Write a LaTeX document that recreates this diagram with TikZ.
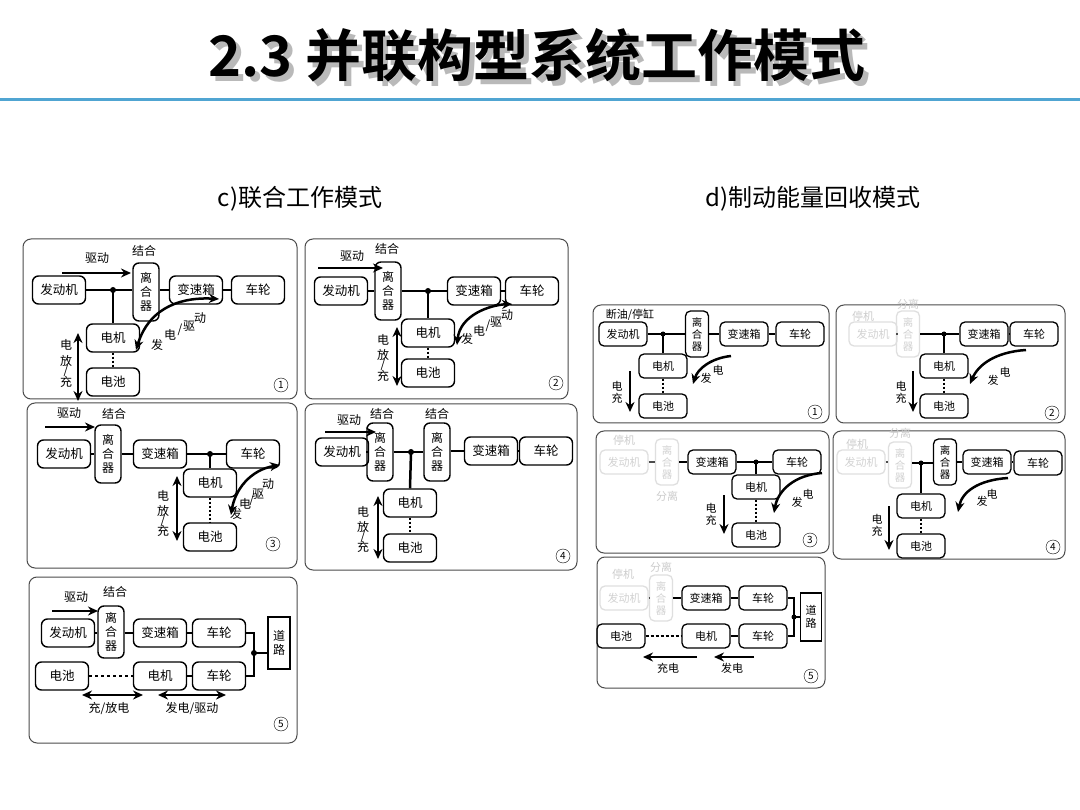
\documentclass[tikz,border=0pt]{standalone}
\usepackage{fontspec}
\setmainfont{Noto Sans CJK SC}
\newfontfamily\tfont{Noto Sans CJK SC Bold}
\usetikzlibrary{arrows.meta}
\begin{document}
\begin{tikzpicture}[x=1pt,y=-1pt,
 bl/.style={draw,rounded corners=6,line width=1.4,minimum width=53,minimum height=28,inner sep=1,font=\fontsize{12.5}{13}\selectfont},
 cl/.style={bl,minimum width=26,minimum height=58,align=center,font=\fontsize{12}{14}\selectfont},
 br/.style={draw,rounded corners=5,line width=1.3,minimum width=48,minimum height=24,inner sep=1,font=\fontsize{11}{12}\selectfont},
 cr/.style={br,minimum width=23,minimum height=46,align=center,font=\fontsize{10.5}{12}\selectfont},
 gry/.style={draw=gray!25,text=gray!35},
 frame/.style={draw=black!70,rounded corners=8,line width=1},
 lab/.style={inner sep=0,font=\fontsize{12}{13}\selectfont},
 labr/.style={inner sep=0,font=\fontsize{11}{12}\selectfont},
 num/.style={draw,circle,inner sep=0.5,minimum size=14,font=\fontsize{10}{10}\selectfont},
 thk/.style={line width=2.5},
 thn/.style={line width=1.3},
 dot/.style={dotted,line width=2},
 arr/.style={line width=2.5,-{Stealth[length=10,width=9]}},
 darr/.style={line width=2.5,{Stealth[length=10,width=9]}-{Stealth[length=10,width=9]}},
]
\useasboundingbox (0,0) rectangle (1080,810);
\fill[white] (0,0) rectangle (1080,810);
% title
\node[text=gray!55,font=\tfont\fontsize{56}{60}\selectfont] at (542,60) {2.3 并联构型系统工作模式};
\node[font=\tfont\fontsize{56}{60}\selectfont] (title) at (537,55) {2.3 并联构型系统工作模式};
\draw[line width=3,color={rgb,255:red,80;green,165;blue,210}] (0,100) -- (1080,100);
\node[font=\fontsize{24}{26}\selectfont] (st1) at (300,199) {c)联合工作模式};
\node[font=\fontsize{24}{26}\selectfont] (st2) at (813,199) {d)制动能量回收模式};

% ===== Left 1
\draw[frame] (23,239) rectangle (297,399);
\node[bl] (e1) at (59,290) {发动机};
\node[cl] (c1) at (146,292) {离\\合\\器};
\node[bl] (g1) at (196,290) {变速箱};
\node[bl] (w1) at (258,290) {车轮};
\node[bl] (m1) at (113,338) {电机};
\node[bl] (b1) at (113,382) {电池};
\coordinate (j1) at (113,290);
\draw[thk] (e1.east) -- (e1.east -| c1.west);
\draw[thk] (j1) -- (m1.north);
\draw[thn] (c1.east |- g1) -- (g1.west);
\draw[thn] (g1) -- (w1);
\draw[dot] (m1) -- (b1);
\fill (j1) circle (3);
\coordinate (a1s) at (62,273); \coordinate (a1e) at (131,273);
\draw[arr] (a1s) -- (a1e);
\node[lab] (l1a) at (97,258) {驱动};
\node[lab] (l1b) at (144,251) {结合};
\coordinate (k1s) at (136,350); \coordinate (k1e) at (219,299);
\draw[darr] (k1s) .. controls (150,305) and (185,297) .. (k1e);
\node[lab] at (157,345) {发}; \node[lab] at (170,335) {电}; \node[lab] at (180,330) {/};
\node[lab] at (189,326) {驱}; \node[lab] at (200,318) {动};
\coordinate (v1s) at (78,333); \coordinate (v1e) at (78,401);
\draw[darr] (v1s) -- (v1e);
\node[lab] at (66,345) {电}; \node[lab] at (66,361) {放}; \node[lab] at (66,371) {/}; \node[lab] at (66,382) {充};
\node[num] (n1) at (281,385) {1};

% ===== Left 2
\draw[frame] (305,239) rectangle (568,399);
\node[bl] (e2) at (341,291) {发动机};
\node[cl] (c2) at (388,291) {离\\合\\器};
\node[bl] (g2) at (474,291) {变速箱};
\node[bl] (w2) at (532,291) {车轮};
\node[bl] (m2) at (428,333) {电机};
\node[bl] (b2) at (428,373) {电池};
\coordinate (j2) at (428,291);
\draw[thn] (e2) -- (c2);
\draw[thk] (c2) -- (g2);
\draw[thk] (j2) -- (m2.north);
\draw[thn] (g2) -- (w2);
\draw[dot] (m2) -- (b2);
\fill (j2) circle (3);
\coordinate (a2s) at (318,268); \coordinate (a2e) at (383,268);
\draw[arr] (a2s) -- (a2e);
\node[lab] at (352,256) {驱动};
\node[lab] at (387,249) {结合};
\coordinate (k2s) at (457,345); \coordinate (k2e) at (512,304);
\draw[darr] (k2s) .. controls (460,315) and (490,305) .. (k2e);
\node[lab] at (467,339) {发}; \node[lab] at (479,331) {电}; \node[lab] at (488,326) {/};
\node[lab] at (496,322) {驱}; \node[lab] at (507,315) {动};
\coordinate (v2s) at (397,327); \coordinate (v2e) at (397,386);
\draw[darr] (v2s) -- (v2e);
\node[lab] at (383,340) {电}; \node[lab] at (383,355) {放}; \node[lab] at (383,365) {/}; \node[lab] at (383,376) {充};
\node[num] (n2) at (556,383) {2};

% ===== Left 3
\draw[frame] (27,403) rectangle (297,568);
\node[bl] (e3) at (64,454) {发动机};
\node[cl] (c3) at (108,454) {离\\合\\器};
\node[bl] (g3) at (160,454) {变速箱};
\node[bl] (w3) at (253,454) {车轮};
\node[bl] (m3) at (210,483) {电机};
\node[bl] (b3) at (210,537) {电池};
\coordinate (j3) at (210,454);
\draw[thn] (e3) -- (c3);
\draw[thn] (c3) -- (g3);
\draw[thk] (g3) -- (w3);
\draw[thn] (j3) -- (m3.north);
\draw[dot] (m3) -- (b3);
\fill (j3) circle (3);
\coordinate (a3s) at (45,427); \coordinate (a3e) at (95,427);
\draw[arr] (a3s) -- (a3e);
\node[lab] at (69,413) {驱动};
\node[lab] at (114,414) {结合};
\coordinate (k3s) at (280,465); \coordinate (k3e) at (231,515);
\draw[darr] (k3s) .. controls (250,470) and (235,490) .. (k3e);
\node[lab] at (268,484) {动}; \node[lab] at (258,494) {驱}; \node[lab] at (252,500) {/};
\node[lab] at (245,504) {电}; \node[lab] at (236,514) {发};
\coordinate (v3s) at (177,476); \coordinate (v3e) at (177,541);
\draw[darr] (v3s) -- (v3e);
\node[lab] at (163,496) {电}; \node[lab] at (163,511) {放}; \node[lab] at (163,521) {/}; \node[lab] at (163,531) {充};
\node[num] (n3) at (273,544) {3};

% ===== Left 4
\draw[frame] (305,404) rectangle (577,570);
\node[bl] (e4) at (342,452) {发动机};
\node[cl] (c4a) at (380,452) {离\\合\\器};
\node[cl] (c4b) at (437,452) {离\\合\\器};
\node[bl] (g4) at (491,451) {变速箱};
\node[bl] (w4) at (546,451) {车轮};
\node[bl] (m4) at (410,503) {电机};
\node[bl] (b4) at (410,548) {电池};
\coordinate (j4) at (411,452);
\draw[thn] (e4) -- (c4a);
\draw[thk] (c4a) -- (c4b);
\draw[thk] (j4) -- (m4.north);
\draw[thn] (c4b.east |- g4) -- (g4);
\draw[thn] (g4) -- (w4);
\draw[dot] (m4) -- (b4);
\fill (j4) circle (3);
\coordinate (a4s) at (325,432); \coordinate (a4e) at (376,432);
\draw[arr] (a4s) -- (a4e);
\node[lab] at (349,420) {驱动};
\node[lab] at (382,414) {结合};
\node[lab] at (437,414) {结合};
\coordinate (v4s) at (378,496); \coordinate (v4e) at (378,559);
\draw[darr] (v4s) -- (v4e);
\node[lab] at (363,512) {电}; \node[lab] at (363,527) {放}; \node[lab] at (363,537) {/}; \node[lab] at (363,547) {充};
\node[num] (n4) at (563,556) {4};

% ===== Left 5
\draw[frame] (29,577) rectangle (297,743);
\node[bl] (e5) at (68,633) {发动机};
\node[cl,minimum height=52] (c5) at (111,632) {离\\合\\器};
\node[bl] (g5) at (160,633) {变速箱};
\node[bl] (w5a) at (219,633) {车轮};
\node[draw,line width=1.3,minimum width=22,minimum height=52,inner sep=1,align=center,font=\fontsize{12}{14}\selectfont] (r5) at (279,643) {道\\路};
\node[bl] (b5) at (62,676) {电池};
\node[bl] (m5) at (160,676) {电机};
\node[bl] (w5b) at (219,676) {车轮};
\coordinate (j5) at (254,653);
\draw[thn] (e5) -- (c5.west |- e5);
\draw[thn] (c5.east |- g5) -- (g5);
\draw[thn] (g5) -- (w5a);
\draw[thk] (w5a.east) -- (w5a.east -| j5) -- (w5b.east -| j5) -- (w5b.east);
\draw[thk] (j5) -- (j5 -| r5.west);
\fill (j5) circle (3);
\draw[thn,dashed] (b5) -- (m5);
\draw[thn] (m5) -- (w5b);
\coordinate (a5s) at (52,611); \coordinate (a5e) at (98,611);
\draw[arr] (a5s) -- (a5e);
\node[lab] at (76,597) {驱动};
\node[lab] at (115,592) {结合};
\coordinate (h5s) at (82,695); \coordinate (h5e) at (143,695);
\draw[darr] (h5s) -- (h5e);
\node[lab] at (109,709) {充/放电};
\coordinate (h6s) at (158,695); \coordinate (h6e) at (226,695);
\draw[darr] (h6s) -- (h6e);
\node[lab] at (192,709) {发电/驱动};
\node[num] (n5) at (281,724) {5};

% ===== Right 1
\draw[frame] (593,305) rectangle (829,423);
\node[labr] at (630,315) {断油/停缸};
\node[br] (re1) at (623,334) {发动机};
\node[cr] (rc1) at (697,334) {离\\合\\器};
\node[br] (rg1) at (744,334) {变速箱};
\node[br] (rw1) at (800,334) {车轮};
\node[br] (rm1) at (663,366) {电机};
\node[br] (rb1) at (663,406) {电池};
\coordinate (rj1) at (663,334);
\draw[thk] (re1) -- (rc1);
\draw[thk] (rj1) -- (rm1.north);
\draw[thn] (rc1) -- (rg1);
\draw[thn] (rg1) -- (rw1);
\draw[dot] (rm1) -- (rb1);
\fill (rj1) circle (2.5);
\coordinate (rk1s) at (731,356); \coordinate (rk1e) at (693,384);
\draw[arr] (rk1s) .. controls (712,358) and (698,368) .. (rk1e);
\node[labr] at (706,378) {发}; \node[labr] at (718,370) {电};
\coordinate (rv1s) at (630,371); \coordinate (rv1e) at (630,412);
\draw[arr] (rv1s) -- (rv1e);
\node[labr] at (617,386) {电}; \node[labr] at (617,398) {充};
\node[num] (rn1) at (815,412) {1};

% ===== Right 2
\draw[frame] (836,305) rectangle (1065,423);
\node[labr,text=gray!40] at (863,316) {停机};
\node[labr,text=gray!40] at (908,304) {分离};
\node[br,gry] (re2) at (873,334) {发动机};
\node[cr,gry] (rc2) at (908,334) {离\\合\\器};
\node[br] (rg2) at (984,334) {变速箱};
\node[br] (rw2) at (1034,334) {车轮};
\node[br] (rm2) at (944,366) {电机};
\node[br] (rb2) at (944,406) {电池};
\coordinate (rj2) at (944,334);
\draw[thn,black!70] (re2) -- (rc2);
\draw[thk] (rc2) -- (rg2);
\draw[thk] (rj2) -- (rm2.north);
\draw[thn] (rg2) -- (rw2);
\draw[dot] (rm2) -- (rb2);
\fill (rj2) circle (2.5);
\coordinate (rk2s) at (1026,350); \coordinate (rk2e) at (970,384);
\draw[arr] (rk2s) .. controls (995,352) and (978,365) .. (rk2e);
\node[labr] at (993,380) {发}; \node[labr] at (1005,372) {电};
\coordinate (rv2s) at (913,371); \coordinate (rv2e) at (913,412);
\draw[arr] (rv2s) -- (rv2e);
\node[labr] at (901,386) {电}; \node[labr] at (901,398) {充};
\node[num] (rn2) at (1052,413) {2};

% ===== Right 3
\draw[frame] (596,431) rectangle (829,553);
\node[labr,text=gray!40] at (624,440) {停机};
\node[labr,text=gray!40] at (667,496) {分离};
\node[br,gry] (re3) at (624,462) {发动机};
\node[cr,gry] (rc3) at (667,462) {离\\合\\器};
\node[br] (rg3) at (712,462) {变速箱};
\node[br] (rw3) at (797,462) {车轮};
\node[br] (rm3) at (756,487) {电机};
\node[br] (rb3) at (756,535) {电池};
\coordinate (rj3) at (756,462);
\draw[thn,black!70] (re3) -- (rc3);
\draw[thn] (rc3) -- (rg3);
\draw[thk] (rg3) -- (rw3);
\draw[thn] (rj3) -- (rm3.north);
\draw[dot] (rm3) -- (rb3);
\fill (rj3) circle (2.5);
\coordinate (rk3s) at (822,473); \coordinate (rk3e) at (774,513);
\draw[arr] (rk3s) .. controls (795,475) and (778,490) .. (rk3e);
\node[labr] at (797,502) {发}; \node[labr] at (808,494) {电};
\coordinate (rv3s) at (724,495); \coordinate (rv3e) at (724,534);
\draw[arr] (rv3s) -- (rv3e);
\node[labr] at (711,508) {电}; \node[labr] at (711,520) {充};
\node[num] (rn3) at (810,540) {3};

% ===== Right 4
\draw[frame] (833,431) rectangle (1065,559);
\node[labr,text=gray!40] at (857,444) {停机};
\node[labr,text=gray!40] at (900,433) {分离};
\node[br,gry] (re4) at (861,462) {发动机};
\node[cr,gry] (rc4a) at (900,465) {离\\合\\器};
\node[cr] (rc4b) at (945,462) {离\\合\\器};
\node[br] (rg4) at (987,462) {变速箱};
\node[br] (rw4) at (1038,463) {车轮};
\node[br] (rm4) at (921,506) {电机};
\node[br] (rb4) at (921,546) {电池};
\coordinate (rj4) at (921,463);
\draw[thn,black!70] (re4.east) -- (re4.east -| rc4a.west);
\draw[thk] (rj4 -| rc4a.east) -- (rj4 -| rc4b.west);
\draw[thk] (rj4) -- (rm4.north);
\draw[thn] (rc4b) -- (rg4);
\draw[thn] (rg4.east) -- (rg4.east -| rw4.west);
\draw[dot] (rm4) -- (rb4);
\fill (rj4) circle (2.5);
\coordinate (rk4s) at (1008,478); \coordinate (rk4e) at (958,512);
\draw[arr] (rk4s) .. controls (978,480) and (962,492) .. (rk4e);
\node[labr] at (982,501) {发}; \node[labr] at (992,494) {电};
\coordinate (rv4s) at (889,506); \coordinate (rv4e) at (889,550);
\draw[arr] (rv4s) -- (rv4e);
\node[labr] at (877,519) {电}; \node[labr] at (877,531) {充};
\node[num] (rn4) at (1053,547) {4};

% ===== Right 5
\draw[frame] (597,557) rectangle (825,688);
\node[labr,text=gray!40] at (623,574) {停机};
\node[labr,text=gray!40] at (661,567) {分离};
\node[br,gry] (re5) at (624,598) {发动机};
\node[cr,gry] (rc5) at (661,598) {离\\合\\器};
\node[br] (rg5) at (706,598) {变速箱};
\node[br] (rw5a) at (763,598) {车轮};
\node[draw,line width=1.3,minimum width=21,minimum height=48,inner sep=1,align=center,font=\fontsize{11}{13}\selectfont] (rr5) at (811,617) {道\\路};
\node[br] (rb5) at (621,636) {电池};
\node[br] (rm5) at (706,636) {电机};
\node[br] (rw5b) at (763,636) {车轮};
\coordinate (rj5) at (794,617);
\draw[thn,black!70] (re5.east) -- (re5.east -| rc5.west);
\draw[thn] (rc5.east |- rg5) -- (rg5);
\draw[thn] (rg5) -- (rw5a);
\draw[thk] (rw5a.east) -- (rw5a.east -| rj5) -- (rw5b.east -| rj5) -- (rw5b.east);
\draw[thk] (rj5) -- (rj5 -| rr5.west);
\fill (rj5) circle (2.5);
\draw[line width=2,dash pattern=on 3pt off 2pt] (rb5) -- (rm5);
\draw[thn] (rm5) -- (rw5b);
\coordinate (rh1s) at (697,657); \coordinate (rh1e) at (643,657);
\draw[arr] (rh1s) -- (rh1e);
\node[labr] at (668,668) {充电};
\coordinate (rh2s) at (754,657); \coordinate (rh2e) at (714,657);
\draw[arr] (rh2s) -- (rh2e);
\node[labr] at (732,668) {发电};
\node[num] (rn5) at (811,676) {5};
\end{tikzpicture}
\end{document}
